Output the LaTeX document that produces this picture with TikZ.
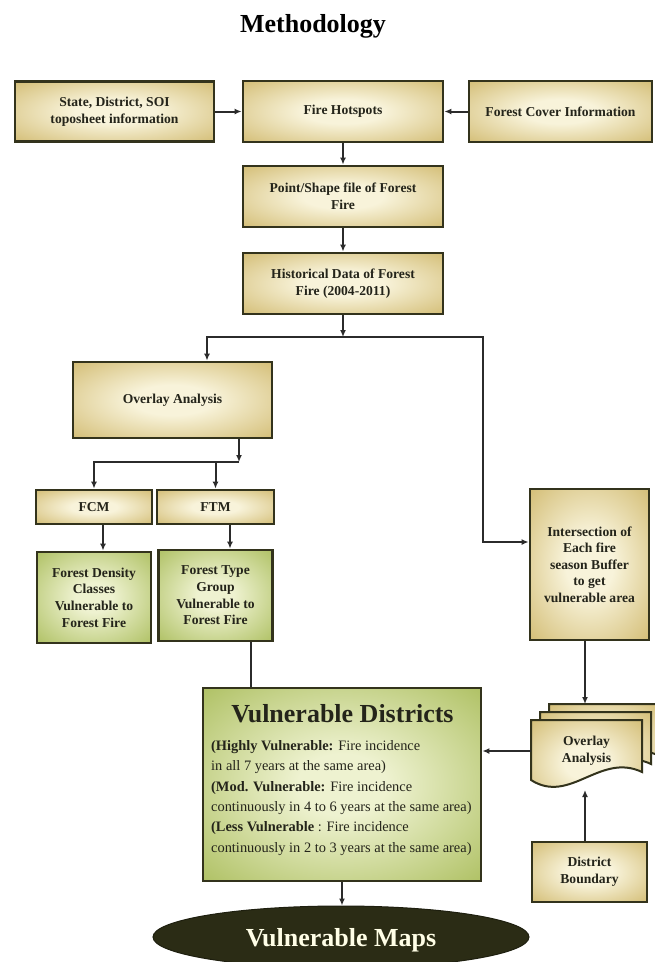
\documentclass[tikz,border=0pt]{standalone}
\usepackage{fontspec}
\setmainfont{Liberation Serif}
\usetikzlibrary{shapes.geometric,arrows.meta}
\definecolor{bordc}{HTML}{33331C}
\definecolor{yin}{HTML}{F8F3DA}
\definecolor{yout}{HTML}{C2A446}
\definecolor{gin}{HTML}{EEF2D0}
\definecolor{gout}{HTML}{93AB34}
\definecolor{linec}{HTML}{2B2B2B}
\definecolor{ellc}{HTML}{2B2C15}
\definecolor{txtc}{HTML}{24241A}
\pgfdeclareradialshading{yshade}{\pgfpoint{0bp}{0bp}}{color(0bp)=(yin); color(10bp)=(yin); color(48bp)=(yout); color(72bp)=(yout)}
\pgfdeclareradialshading{gshade}{\pgfpoint{0bp}{0bp}}{color(0bp)=(gin); color(8bp)=(gin); color(48bp)=(gout); color(72bp)=(gout)}
\begin{document}
\begin{tikzpicture}[x=1pt,y=-1pt,
  box/.style={draw=bordc, line width=2.8pt, shade, shading=yshade, inner sep=0pt, align=center,
    font=\fontsize{13.6}{16.6}\selectfont\bfseries, text=txtc},
  gbox/.style={box, shading=gshade},
  arr/.style={draw=linec, line width=2pt, -{Latex[length=7pt,width=6pt]}},
  thk/.style={draw=linec, line width=2.8pt}]
\fill[white] (0,0) rectangle (654,962);
\useasboundingbox (0,0) rectangle (654,962);

\node[font=\fontsize{26}{30}\selectfont\bfseries, anchor=base] (title) at (313,32) {Methodology};

% top row
\node[box, minimum width=199pt, minimum height=60pt] (src) at (114.5,111.5) {State, District, SOI\\toposheet information};
\node[box, minimum width=200pt, minimum height=61pt] (fh) at (343,111.5) {Fire Hotspots};
\node[box, minimum width=183pt, minimum height=61pt] (fc) at (560.5,111.5) {Forest Cover Information};
\node[box, minimum width=200pt, minimum height=61pt] (ps) at (343,196.5) {Point/Shape file of Forest\\Fire};
\node[box, minimum width=200pt, minimum height=61pt] (hist) at (343,283.5) {Historical Data of Forest\\Fire (2004-2011)};

\node[box, minimum width=199pt, minimum height=76pt] (ov) at (172.5,400) {Overlay Analysis};
\node[box, minimum width=116pt, minimum height=34pt] (fcm) at (94,507) {FCM};
\node[box, minimum width=117pt, minimum height=34pt] (ftm) at (215.5,507) {FTM};
\node[gbox, minimum width=114pt, minimum height=91pt] (fd) at (94,597.5) {Forest Density\\Classes\\Vulnerable to\\Forest Fire};
\node[gbox, minimum width=114pt, minimum height=91pt] (ft) at (215.5,595.5) {Forest Type\\Group\\Vulnerable to\\Forest Fire};

\node[box, minimum width=119pt, minimum height=151pt] (inter) at (589.5,564.5) {Intersection of\\Each fire\\season Buffer\\to get\\vulnerable area};

% vulnerable districts
\node[gbox, minimum width=278pt, minimum height=193pt] (vd) at (342,784.5) {};
\node[font=\fontsize{26}{30}\selectfont\bfseries, anchor=base, text=txtc] (vdt) at (342.5,722) {Vulnerable Districts};
\node[font=\fontsize{14.4}{20.4}\selectfont, align=left, anchor=north west, inner sep=0pt, text=txtc] (vdb) at (211,740)
  {\textbf{(Highly Vulnerable:} Fire incidence\\
   in all 7 years at the same area)\\
   \textbf{(Mod. Vulnerable:} Fire incidence\\
   continuously in 4 to 6 years at the same area)\\
   \textbf{(Less Vulnerable} : Fire incidence\\
   continuously in 2 to 3 years at the same area)};

% overlay document stack
\foreach \dx/\dy in {18/-16, 9/-8, 0/0}{
  \path[shade, shading=yshade, draw=bordc, line width=2pt, shift={(\dx,\dy)}]
    (531,720) -- (642,720) -- (642,772) .. controls (600,752) and (570,805) .. (531,780) -- cycle;
}
\node[inner sep=0pt, minimum width=111pt, minimum height=62pt, align=center,
  font=\fontsize{13.6}{16.8}\selectfont\bfseries, text=txtc] (ovd) at (586.5,751) {Overlay\\Analysis};
\coordinate (doctop) at (585,704);
\coordinate (docbot) at (585,790);

\node[box, minimum width=115pt, minimum height=60pt] (db) at (589.5,872) {District\\Boundary};

\node[ellipse, fill=ellc, draw=ellc!70!black, line width=1pt, minimum width=376pt, minimum height=62pt, inner sep=0pt,
  text=white!90!yellow, font=\fontsize{26}{30}\selectfont\bfseries, text height=18pt, text depth=0pt] (maps) at (341,937) {Vulnerable Maps};

% connectors
\draw[arr] (src.east) -- (fh.west);
\draw[arr] (fc.west) -- (fh.east);
\draw[arr] (fh.south) -- (ps.north);
\draw[arr] (ps.south) -- (hist.north);
\coordinate (j1) at (343,337);
\coordinate (bl) at (207,337);
\coordinate (bk) at (483,542);
\draw[arr] (hist.south) -- (j1);
\draw[arr] (j1) -| (bl |- ov.north);
\draw[draw=linec, line width=2.8pt, -{Latex[length=7pt,width=6pt]}] (j1) -| (bk) -- (bk -| inter.west);

\coordinate (j2) at (239,462);
\draw[arr] (ov.south -| j2) -- (j2);
\draw[arr] (j2) -| (fcm.north);
\draw[arr] (j2) -| (ftm.north);

\draw[arr] ([xshift=9pt]fcm.south) -- ([xshift=9pt]fd.north);
\draw[arr] ([xshift=14.5pt]ftm.south) -- ([xshift=14.5pt]ft.north);
\coordinate (ftout) at ([xshift=35.5pt]ft.south);
\draw[thk] (ftout) -- (ftout |- vd.north);

\draw[arr] (inter.south -| doctop) -- (doctop);
\draw[arr] (ovd.west) -- (ovd.west -| vd.east);
\draw[arr] (db.north -| docbot) -- (docbot);
\draw[arr] (vd.south) -- (vd.south |- maps.north);
\end{tikzpicture}
\end{document}
